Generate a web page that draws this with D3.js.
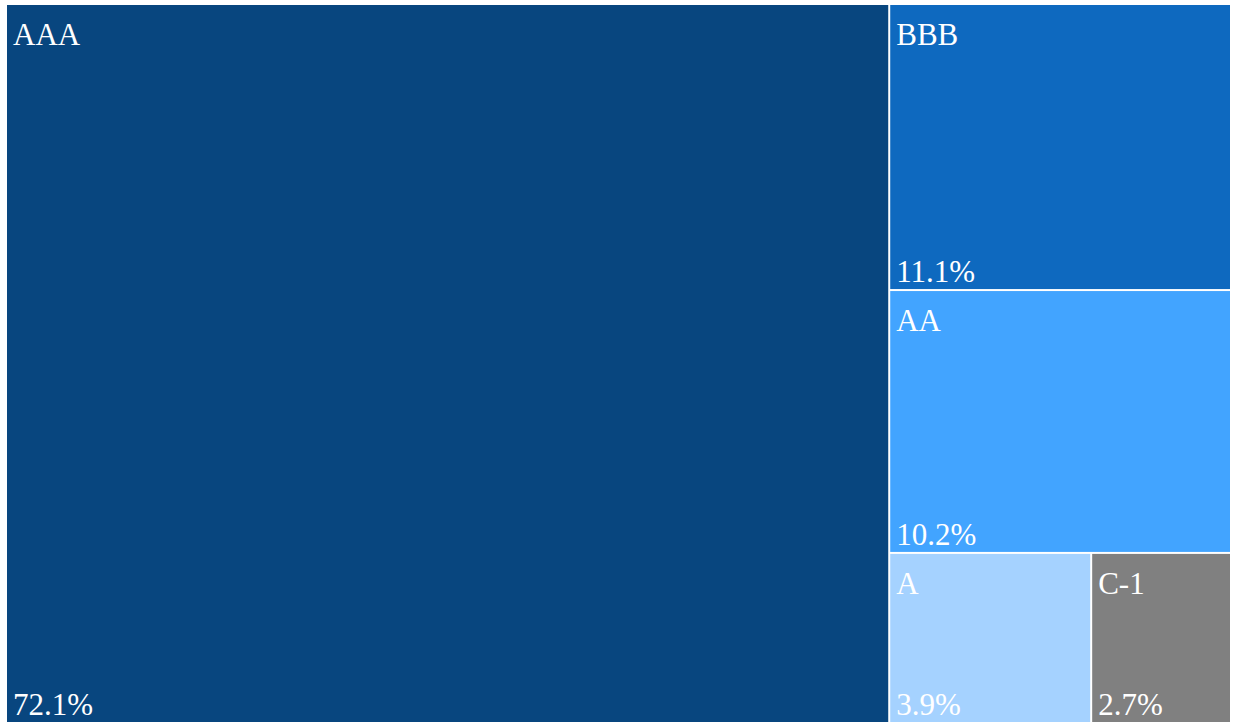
<!DOCTYPE html>
<html>
<head>
<meta charset="utf-8">
<script src="https://cdn.jsdelivr.net/npm/d3@7"></script>
<style>
  body { margin: 0; background: #fff; overflow: hidden; }
  .cell-text { fill: #fff; font-family: "Liberation Serif", "Times New Roman", serif; font-size: 31px; }
</style>
</head>
<body>
<svg class="chart"></svg>
<script>
(function () {
  'use strict';

  // Rating categories, share (%), and fill per category
  var ratings = ['AAA', 'BBB', 'AA', 'A', 'C-1'];
  var shares = [72.1, 11.1, 10.2, 3.9, 2.7];
  var colours = ['#08467f', '#0e69bf', '#42a4ff', '#a5d2ff', '#808080'];

  var outerWidth = 1234;
  var outerHeight = 722;
  var margin = { top: 5, right: 4, bottom: 0, left: 7 };

  var chart = d3.select('.chart')
      .attr('width', outerWidth)
      .attr('height', outerHeight);

  var data = ratings.map(function (r, i) {
    return { name: r, value: shares[i], colour: colours[i] };
  });

  var root = d3.hierarchy({ children: data })
      .sum(function (d) { return d.value; });

  d3.treemap()
      .tile(d3.treemapSquarify)
      .size([outerWidth - margin.left - margin.right, outerHeight - margin.top - margin.bottom])
      .paddingInner(2)
      .round(false)(root);

  var cells = chart.append('g')
      .attr('transform', 'translate(' + margin.left + ',' + margin.top + ')')
    .selectAll('g')
    .data(root.leaves())
    .enter().append('g')
      .attr('transform', function (d) { return 'translate(' + d.x0 + ',' + d.y0 + ')'; });

  cells.append('rect')
      .attr('width', function (d) { return d.x1 - d.x0; })
      .attr('height', function (d) { return d.y1 - d.y0; })
      .attr('fill', function (d) { return d.data.colour; });

  cells.append('text')
      .attr('class', 'cell-text')
      .attr('x', 6)
      .attr('y', 40)
      .text(function (d) { return d.data.name; });

  cells.append('text')
      .attr('class', 'cell-text')
      .attr('x', 6)
      .attr('y', function (d) { return d.y1 - d.y0 - 7; })
      .text(function (d) { return d.data.value.toFixed(1) + '%'; });
}());
</script>
</body>
</html>
